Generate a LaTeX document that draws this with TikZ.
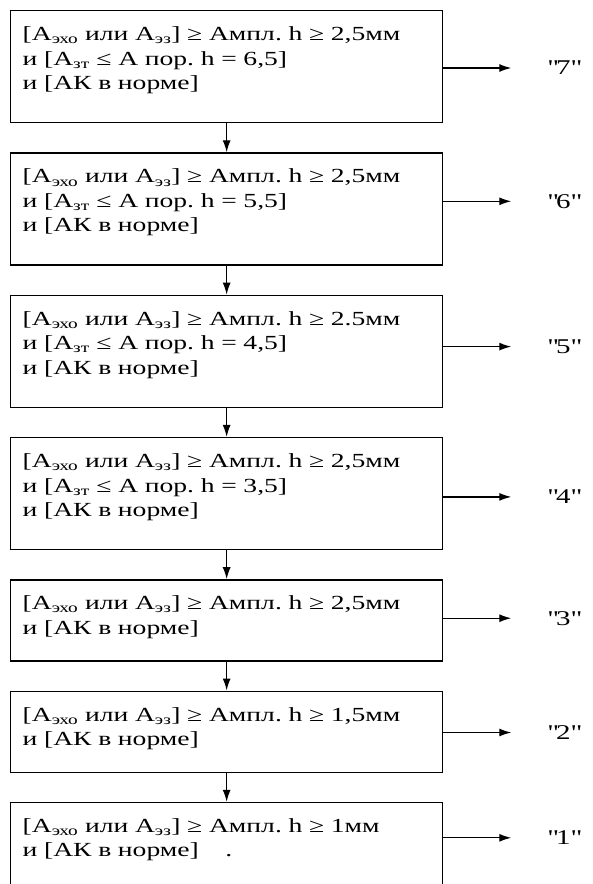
\documentclass[tikz,border=0pt]{standalone}
\usepackage{fontspec}
\setmainfont[FakeStretch=1.38]{Liberation Serif}
\usetikzlibrary{positioning,arrows.meta}

\newcommand{\uslfont}{\fontsize{20pt}{24.5pt}\selectfont\frenchspacing}
\newcommand{\ampl}[1]{[А\textsubscript{эхо} или А\textsubscript{эз}] ≥ Ампл. h ≥ #1мм}
\newcommand{\porog}[1]{и [А\textsubscript{зт} ≤ А пор. h = #1]}
\newcommand{\akn}{и [АК в норме]}

\begin{document}
\begin{tikzpicture}[x=1pt, y=-1pt,
    usl/.style={draw, line width=1.3pt, text width=408pt, inner xsep=12pt,
        inner ysep=16pt, align=left, font=\uslfont, text height=14pt},
    tri/.style={usl, text depth=66pt},
    dva/.style={usl, text depth=35pt},
    ball/.style={font=\fontsize{21pt}{21pt}\selectfont, inner sep=0pt},
    strel/.style={line width=1.3pt, -{Latex[length=12pt,width=8pt]}},
    node distance=29pt]
    \useasboundingbox (0,0) rectangle (593,884);

    % блоки условий
    \node[tri, anchor=north west] (b7) at (10,10) {\ampl{2,5}\\ \porog{6,5}\\ \akn};
    \node[tri, below=of b7] (b6) {\ampl{2,5}\\ \porog{5,5}\\ \akn};
    \node[tri, below=of b6] (b5) {\ampl{2.5}\\ \porog{4,5}\\ \akn};
    \node[tri, below=of b5] (b4) {\ampl{2,5}\\ \porog{3,5}\\ \akn};
    \node[dva, below=of b4] (b3) {\ampl{2,5}\\ \akn};
    \node[dva, below=of b3] (b2) {\ampl{1,5}\\ \akn};
    \node[dva, below=of b2, text depth=60pt] (b1) {\ampl{1}\\ \akn\quad\ .};

    % переходы вниз
    \foreach \a/\b in {7/6,6/5,5/4,4/3,3/2,2/1}
        \draw[strel] (b\a.south) -- (b\b.north);

    % баллы
    \foreach \n/\dy in {7/58,6/49,5/52,4/60,3/39,2/42,1/36} {
        \coordinate (s\n) at ([yshift=-\dy pt]b\n.north east);
        \node[ball] (l\n) at ([xshift=120pt]s\n) {\textquotedbl\n\textquotedbl};
        \coordinate (k\n) at ([xshift=68pt]s\n);
        \draw[strel] (s\n) -- (k\n);
    }
\end{tikzpicture}
\end{document}
